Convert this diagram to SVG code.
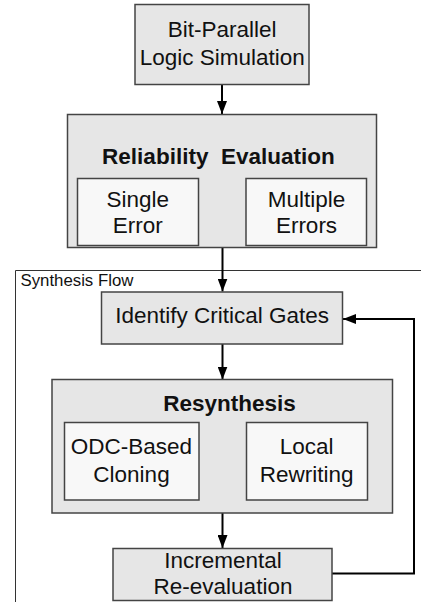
<svg xmlns="http://www.w3.org/2000/svg" width="421" height="602" viewBox="0 0 421 602">
  <defs>
    <marker id="ah" viewBox="0 0 13 10" refX="13" refY="5" markerWidth="13" markerHeight="10" markerUnits="userSpaceOnUse" orient="auto">
      <path d="M0,0 L13,5 L0,10 z" fill="#000"/>
    </marker>
  </defs>
  <style>
    .outer { fill: #e6e6e6; stroke: #444; stroke-width: 1.5; }
    .inner { fill: #f8f8f8; stroke: #444; stroke-width: 1.5; }
    .t { font-family: "Liberation Sans", Arial, sans-serif; font-size: 22.5px; fill: #111; text-anchor: middle; }
    .b { font-weight: bold; }
    .conn { fill: none; stroke: #000; stroke-width: 2; marker-end: url(#ah); }
    .frame { fill: none; stroke: #333; stroke-width: 1; }
    .lbl { font-family: "Liberation Sans", Arial, sans-serif; font-size: 16.8px; fill: #111; }
  </style>
  <rect width="421" height="602" fill="#fff"/>

  <g id="synthesis-flow">
    <path class="frame" d="M421,270.5 L15.5,270.5 L15.5,602"/>
    <text class="lbl" x="20.5" y="285.5">Synthesis Flow</text>
  </g>

  <g id="connectors">
    <path class="conn" d="M222,84 L222,114"/>
    <path class="conn" d="M222.5,248 L222.5,291.5"/>
    <path class="conn" d="M222.5,344 L222.5,379.5"/>
    <path class="conn" d="M222.5,513 L222.5,548"/>
    <path class="conn" d="M332,573.5 L414,573.5 L414,319 L343,319"/>
  </g>

  <g id="bit-parallel">
    <rect class="outer" x="135" y="4.5" width="174" height="80"/>
    <text class="t" x="222.2" y="37.3">Bit-Parallel</text>
    <text class="t" x="222.2" y="65">Logic Simulation</text>
  </g>

  <g id="reliability">
    <rect class="outer" x="67.5" y="114.5" width="309" height="133"/>
    <text class="t b" x="218.4" y="164.3" xml:space="preserve">Reliability  Evaluation</text>
    <g id="single-error">
      <rect class="inner" x="77.5" y="178.5" width="121" height="67"/>
      <text class="t" x="137.8" y="206.7">Single</text>
      <text class="t" x="137.8" y="232.7">Error</text>
    </g>
    <g id="multiple-errors">
      <rect class="inner" x="246" y="178.5" width="120.5" height="67"/>
      <text class="t" x="306.5" y="206.7">Multiple</text>
      <text class="t" x="306.5" y="232.7">Errors</text>
    </g>
  </g>

  <g id="identify">
    <rect class="outer" x="101.5" y="292" width="241" height="52"/>
    <text class="t" x="222.2" y="323.3">Identify Critical Gates</text>
  </g>

  <g id="resynthesis">
    <rect class="outer" x="52" y="379.5" width="340.5" height="133.5"/>
    <text class="t b" x="229.5" y="410.7">Resynthesis</text>
    <g id="odc-cloning">
      <rect class="inner" x="64.5" y="422.5" width="134.5" height="77.5"/>
      <text class="t" x="131.5" y="454.3">ODC-Based</text>
      <text class="t" x="131.5" y="482">Cloning</text>
    </g>
    <g id="local-rewriting">
      <rect class="inner" x="246.5" y="422.5" width="121" height="77.5"/>
      <text class="t" x="306.7" y="454.3">Local</text>
      <text class="t" x="306.7" y="482">Rewriting</text>
    </g>
  </g>

  <g id="incremental">
    <rect class="outer" x="113" y="548.5" width="219" height="52"/>
    <text class="t" x="223" y="567.7">Incremental</text>
    <text class="t" x="223" y="594">Re-evaluation</text>
  </g>
</svg>
